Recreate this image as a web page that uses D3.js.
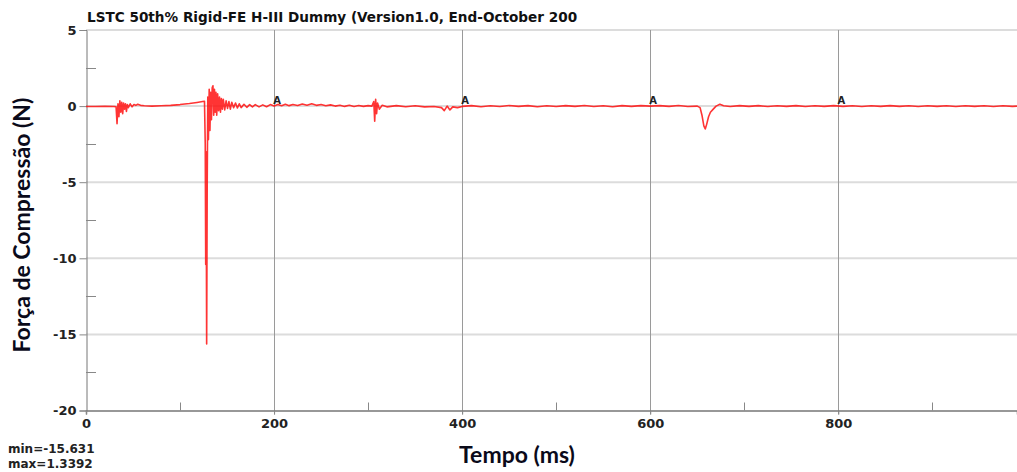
<!DOCTYPE html>
<html>
<head>
<meta charset="utf-8">
<script src="https://cdn.jsdelivr.net/npm/d3@7"></script>
<style>
  html, body { margin: 0; padding: 0; background: #fff; }
  svg { display: block; }
</style>
</head>
<body>
<svg id="chart" width="1017" height="472"></svg>
<script>
// ---- data ----
const titleText = "LSTC 50th% Rigid-FE H-III Dummy (Version1.0, End-October 200";
const xTickValues = [0, 200, 400, 600, 800];
const xMinorTicks = [100, 300, 500, 700, 900];
const yTickValues = [5, 0, -5, -10, -15, -20];
const yMinorTicks = [2.5, -2.5, -7.5, -12.5, -17.5];
const markerTimes = [200, 400, 600, 800];
const markerLabel = "A";

const timeMs = [
  0, 10, 20, 30, 32, 33, 34, 35, 36, 37, 38, 39, 40, 41, 42, 43, 44, 45, 47, 49,
  51, 53, 55, 58, 62, 70, 80, 90, 100, 110, 118, 124, 126, 126.8, 127.3, 127.7, 128.3, 128.9, 129.5, 130.2,
  131, 131.8, 132.6, 133.4, 134.2, 135, 135.8, 136.6, 137.4, 138.2, 139, 140, 141, 142, 143, 144, 145, 146, 147.5, 149,
  150.5, 152, 153.5, 155, 157, 159, 161, 163, 165, 168, 171, 174, 177, 180, 184, 188, 192, 196, 200, 204,
  208, 212, 216, 220, 225, 230, 235, 240, 245, 250, 255, 260, 265, 270, 275, 280, 285, 290, 295, 300,
  304, 306, 307, 308, 309, 310, 312, 315, 320, 330, 340, 350, 360, 370, 378, 381, 384, 387, 390, 395,
  400, 410, 420, 430, 440, 450, 460, 470, 480, 490, 500, 510, 520, 530, 540, 550, 560, 570, 580, 590,
  600, 610, 620, 630, 640, 650, 653, 655, 657, 658.5, 660, 662, 664, 667, 670, 674, 678, 685, 695, 705,
  715, 725, 735, 745, 755, 765, 775, 785, 795, 805, 815, 825, 835, 845, 855, 865, 875, 885, 895, 905,
  915, 925, 935, 945, 955, 965, 975, 985, 990
];
const forceN = [
  -0.03, -0.03, -0.02, -0.03, -0.05, -1.15, 0.15, -0.7, 0.35, -0.4, 0.25, -0.5, 0.2, -0.2, 0.15, -0.35, 0.1, -0.1, 0.15, -0.05,
  0.1, 0.05, 0.12, 0.05, 0.02, 0.0, 0.02, 0.05, 0.1, 0.17, 0.24, 0.3, 0.32, -2.5, -10.4, -3.0, -15.631, -5.0, 0.6, -2.2,
  1.1, -1.6, 0.9, -0.9, 1.2, 1.3392, -0.6, 1.1, -0.4, 0.9, -0.6, 0.8, -0.3, 0.6, -0.4, 0.5, -0.2, 0.45, -0.25, 0.35,
  -0.15, 0.3, -0.2, 0.25, -0.1, 0.2, -0.12, 0.15, -0.1, 0.12, -0.08, 0.1, -0.05, 0.1, -0.05, 0.08, -0.04, 0.1, 0.0, 0.1,
  0.02, 0.12, 0.03, 0.1, 0.04, 0.14, 0.06, 0.15, 0.05, 0.1, 0.02, 0.08, 0.0, 0.06, -0.02, 0.05, -0.03, 0.04, -0.02, 0.03,
  0.0, 0.3, -1.0, 0.45, -0.5, 0.2, -0.2, 0.05, -0.05, 0.03, -0.04, 0.02, -0.05, -0.03, -0.1, -0.3, 0.0, -0.25, -0.05, -0.1,
  -0.02, 0.03, -0.04, 0.02, -0.03, 0.04, -0.02, 0.03, -0.04, 0.02, -0.03, 0.03, -0.02, 0.04, -0.03, 0.02, -0.04, 0.03, -0.02, 0.03,
  0.0, 0.03, -0.02, 0.04, -0.03, 0.0, -0.1, -0.6, -1.3, -1.5, -1.2, -0.7, -0.4, -0.2, 0.0, 0.12, 0.02, -0.03, 0.03, -0.02,
  0.03, -0.03, 0.02, -0.02, 0.03, -0.03, 0.02, -0.02, 0.03, -0.02, 0.02, -0.03, 0.02, -0.02, 0.03, -0.02, 0.02, -0.03, 0.02, -0.02,
  0.02, -0.03, 0.02, -0.02, 0.02, -0.03, 0.02, -0.02, 0.0
];
const minText = "min=-15.631";
const maxText = "max=1.3392";
const xTitle = "Tempo (ms)";
const yTitle = "Força de Compressão (N)";

// ---- layout ----
const svg = d3.select("#chart");
const L = 86, R = 1017, T = 30, B = 410.5;
const x = d3.scaleLinear().domain([0, 990]).range([L, R]);
const y = d3.scaleLinear().domain([-20, 5]).range([B, T]);
const tickFont = "'DejaVu Sans', sans-serif";
const fmt = d => String(d);

// horizontal gridlines
svg.append("g").selectAll("line").data(yTickValues.filter(v => v > -20)).join("line")
  .attr("x1", L).attr("x2", R)
  .attr("y1", d => y(d)).attr("y2", d => y(d))
  .attr("stroke", "#dcdcdc").attr("stroke-width", 2);

// vertical gridlines
svg.append("g").selectAll("line").data(xTickValues.filter(v => v > 0)).join("line")
  .attr("x1", d => Math.round(x(d)) + 0.5).attr("x2", d => Math.round(x(d)) + 0.5)
  .attr("y1", T).attr("y2", B + 4)
  .attr("stroke", "#9a9a9a").attr("stroke-width", 1);

// y axis
const yAxis = svg.append("g").attr("transform", `translate(${L + 0.5},0)`)
  .call(d3.axisLeft(y).tickValues(yTickValues).tickSize(7).tickPadding(3).tickFormat(fmt));
yAxis.select(".domain").attr("stroke", "#777");
yAxis.selectAll(".tick line").attr("stroke", "#888");
yAxis.selectAll("text").attr("font-family", tickFont).attr("font-weight", "bold")
  .attr("font-size", 13).attr("fill", "#222");
svg.append("g").selectAll("line").data(yMinorTicks).join("line")
  .attr("x1", L).attr("x2", L + 10)
  .attr("y1", d => Math.round(y(d)) + 0.5).attr("y2", d => Math.round(y(d)) + 0.5)
  .attr("stroke", "#888");

// x axis
const xAxis = svg.append("g").attr("transform", `translate(0,${B})`)
  .call(d3.axisBottom(x).tickValues(xTickValues).tickSize(4).tickPadding(4).tickFormat(fmt));
xAxis.select(".domain").attr("stroke", "#777").attr("stroke-width", 1.5);
xAxis.selectAll(".tick line").attr("stroke", "#888");
xAxis.selectAll("text").attr("font-family", tickFont).attr("font-weight", "bold")
  .attr("font-size", 13).attr("fill", "#222");
svg.append("g").selectAll("line").data(xMinorTicks).join("line")
  .attr("x1", d => Math.round(x(d)) + 0.5).attr("x2", d => Math.round(x(d)) + 0.5)
  .attr("y1", B - 8).attr("y2", B)
  .attr("stroke", "#888");

// curve
const pts = timeMs.map((t, i) => [t, forceN[i]]);
svg.append("path").datum(pts)
  .attr("d", d3.line().x(d => x(d[0])).y(d => y(d[1])))
  .attr("fill", "none").attr("stroke", "#ff1010").attr("stroke-width", 1.6)
  .attr("stroke-opacity", 0.85).attr("stroke-linejoin", "round");

// markers
svg.append("g").selectAll("text").data(markerTimes).join("text")
  .attr("x", d => x(d) + 3).attr("y", y(0) - 2)
  .attr("text-anchor", "middle")
  .attr("font-family", tickFont).attr("font-weight", "bold").attr("font-size", 10).attr("fill", "#222")
  .text(markerLabel);

// title
svg.append("text").attr("x", L + 1).attr("y", 22)
  .attr("font-family", tickFont).attr("font-weight", "bold").attr("font-size", 13.6).attr("fill", "#111")
  .text(titleText);

// min/max
svg.append("text").attr("x", 8).attr("y", 453)
  .attr("font-family", tickFont).attr("font-weight", "bold").attr("font-size", 12).attr("fill", "#222")
  .text(minText);
svg.append("text").attr("x", 8).attr("y", 468)
  .attr("font-family", tickFont).attr("font-weight", "bold").attr("font-size", 12).attr("fill", "#222")
  .text(maxText);

// axis titles
svg.append("text").attr("x", 517).attr("y", 463).attr("text-anchor", "middle")
  .attr("font-family", "Lato, 'Open Sans', sans-serif").attr("font-weight", "bold")
  .attr("font-size", 23).attr("fill", "#0a0a1a")
  .text(xTitle);
svg.append("text").attr("transform", `translate(30,225) rotate(-90)`).attr("text-anchor", "middle")
  .attr("font-family", "Lato, 'Open Sans', sans-serif").attr("font-weight", "bold")
  .attr("font-size", 23).attr("fill", "#0a0a1a")
  .text(yTitle);
</script>
</body>
</html>
